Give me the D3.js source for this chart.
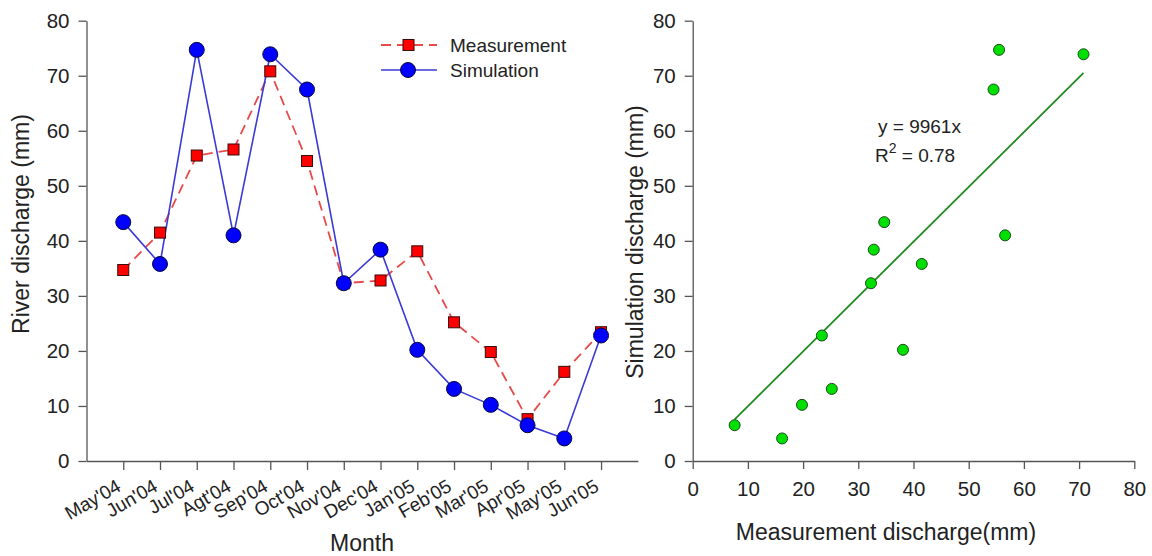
<!DOCTYPE html>
<html>
<head>
<meta charset="utf-8">
<script src="https://cdn.jsdelivr.net/npm/d3@7"></script>
<style>
  body { margin: 0; background: #fff; }
  svg text { font-family: "Liberation Sans", Arial, sans-serif; fill: #222; }
  .axis path, .axis line { stroke: #555; stroke-width: 1.3; }
</style>
</head>
<body>
<div id="chart"></div>
<script>
const months = ["May'04","Jun'04","Jul'04","Agt'04","Sep'04","Oct'04","Nov'04",
  "Dec'04","Jan'05","Feb'05","Mar'05","Apr'05","May'05","Jun'05"];
const measurement = [34.7, 41.5, 55.5, 56.6, 70.8, 54.5, 32.3, 32.8, 38.1, 25.2, 19.8, 7.6, 16.2, 23.4];
const simulation = [43.4, 35.8, 74.7, 41.0, 73.9, 67.5, 32.3, 38.4, 20.2, 13.1, 10.2, 6.5, 4.1, 22.8];
const yTicks = [0, 10, 20, 30, 40, 50, 60, 70, 80];
const xTicksScatter = [0, 10, 20, 30, 40, 50, 60, 70, 80];
const slope = 0.9961;
const equationText = "y = 9961x";
const r2Text = "0.78";

const W = 1152, H = 556;
const svg = d3.select("#chart").append("svg")
  .attr("width", W).attr("height", H);

// ---------- left: time series ----------
const x = d3.scaleLinear().domain([-1, 14]).range([86.5, 637.8]);
const y = d3.scaleLinear().domain([0, 80]).range([461, 20.7]);

svg.append("g").attr("class", "axis")
  .attr("transform", "translate(0," + y(0) + ")")
  .call(d3.axisBottom(x).tickValues(d3.range(months.length)).tickSize(9).tickSizeOuter(0).tickFormat(""));
months.forEach(function (m, i) {
  svg.append("text")
    .attr("transform", "translate(" + (x(i) - 1) + "," + (y(0) + 29) + ") rotate(-30)")
    .attr("text-anchor", "end")
    .style("font-size", "19px")
    .text(m);
});

svg.append("g").attr("class", "axis")
  .attr("transform", "translate(" + x(-1) + ",0)")
  .call(d3.axisLeft(y).tickValues(yTicks).tickSize(8).tickSizeOuter(0).tickPadding(9))
  .selectAll("text").style("font-size", "20.5px");

const line = d3.line()
  .x(function (d, i) { return x(i); })
  .y(function (d) { return y(d); });

svg.append("path")
  .attr("d", line(measurement))
  .attr("fill", "none")
  .attr("stroke", "#e84a4a")
  .attr("stroke-width", 1.8)
  .attr("stroke-dasharray", "10,6");

svg.append("path")
  .attr("d", line(simulation))
  .attr("fill", "none")
  .attr("stroke", "#3a3ad6")
  .attr("stroke-width", 1.6);

svg.selectAll(".sq")
  .data(measurement)
  .enter().append("rect")
  .attr("class", "sq")
  .attr("x", function (d, i) { return x(i) - 5.5; })
  .attr("y", function (d) { return y(d) - 5.5; })
  .attr("width", 11).attr("height", 11)
  .attr("fill", "#ff0000")
  .attr("stroke", "#3a0a0a")
  .attr("stroke-width", 1);

svg.selectAll(".dot")
  .data(simulation)
  .enter().append("circle")
  .attr("class", "dot")
  .attr("cx", function (d, i) { return x(i); })
  .attr("cy", function (d) { return y(d); })
  .attr("r", 7.5)
  .attr("fill", "#0000ff")
  .attr("stroke", "#0a0a3a")
  .attr("stroke-width", 1);

// legend
const leg = svg.append("g");
leg.append("line").attr("x1", 381).attr("x2", 437).attr("y1", 45).attr("y2", 45)
  .attr("stroke", "#e84a4a").attr("stroke-width", 1.8).attr("stroke-dasharray", "10,6");
leg.append("rect").attr("x", 403).attr("y", 39.5).attr("width", 11).attr("height", 11)
  .attr("fill", "#ff0000").attr("stroke", "#3a0a0a");
leg.append("text").attr("x", 450).attr("y", 45).attr("dy", "0.35em")
  .style("font-size", "19px").text("Measurement");
leg.append("line").attr("x1", 381).attr("x2", 437).attr("y1", 70).attr("y2", 70)
  .attr("stroke", "#3a3ad6").attr("stroke-width", 1.6);
leg.append("circle").attr("cx", 408).attr("cy", 70).attr("r", 7.5)
  .attr("fill", "#0000ff").attr("stroke", "#0a0a3a");
leg.append("text").attr("x", 450).attr("y", 70).attr("dy", "0.35em")
  .style("font-size", "19px").text("Simulation");

svg.append("text")
  .attr("transform", "translate(29,224) rotate(-90)")
  .attr("text-anchor", "middle")
  .style("font-size", "23px")
  .text("River discharge (mm)");
svg.append("text")
  .attr("x", 362).attr("y", 551)
  .attr("text-anchor", "middle")
  .style("font-size", "23px")
  .text("Month");

// ---------- right: scatter ----------
const xs = d3.scaleLinear().domain([0, 80]).range([692.7, 1134.3]);
const ys = d3.scaleLinear().domain([0, 80]).range([461, 20.7]);

svg.append("g").attr("class", "axis")
  .attr("transform", "translate(0," + ys(0) + ")")
  .call(d3.axisBottom(xs).tickValues(xTicksScatter).tickSize(8).tickSizeOuter(0).tickPadding(12))
  .selectAll("text").style("font-size", "20.5px");

svg.append("g").attr("class", "axis")
  .attr("transform", "translate(" + xs(0) + ",0)")
  .call(d3.axisLeft(ys).tickValues(yTicks).tickSize(8).tickSizeOuter(0).tickPadding(9))
  .selectAll("text").style("font-size", "20.5px");

const xMin = d3.min(measurement), xMax = d3.max(measurement);
svg.append("line")
  .attr("x1", xs(xMin)).attr("y1", ys(slope * xMin))
  .attr("x2", xs(xMax)).attr("y2", ys(slope * xMax))
  .attr("stroke", "#1f8a1f")
  .attr("stroke-width", 1.8);

svg.selectAll(".pt")
  .data(measurement)
  .enter().append("circle")
  .attr("class", "pt")
  .attr("cx", function (d) { return xs(d); })
  .attr("cy", function (d, i) { return ys(simulation[i]); })
  .attr("r", 5.5)
  .attr("fill", "#00e000")
  .attr("stroke", "#1a4a1a")
  .attr("stroke-width", 1);

svg.append("text")
  .attr("x", 878).attr("y", 133)
  .style("font-size", "19px")
  .text(equationText);
const r2 = svg.append("text")
  .attr("x", 875).attr("y", 162)
  .style("font-size", "19px");
r2.append("tspan").text("R");
r2.append("tspan").attr("dy", -9).style("font-size", "14px").text("2");
r2.append("tspan").attr("dy", 9).text(" = " + r2Text);

svg.append("text")
  .attr("transform", "translate(643,242) rotate(-90)")
  .attr("text-anchor", "middle")
  .style("font-size", "23px")
  .text("Simulation discharge (mm)");
svg.append("text")
  .attr("x", 886).attr("y", 540)
  .attr("text-anchor", "middle")
  .style("font-size", "23px")
  .text("Measurement discharge(mm)");
</script>
</body>
</html>
